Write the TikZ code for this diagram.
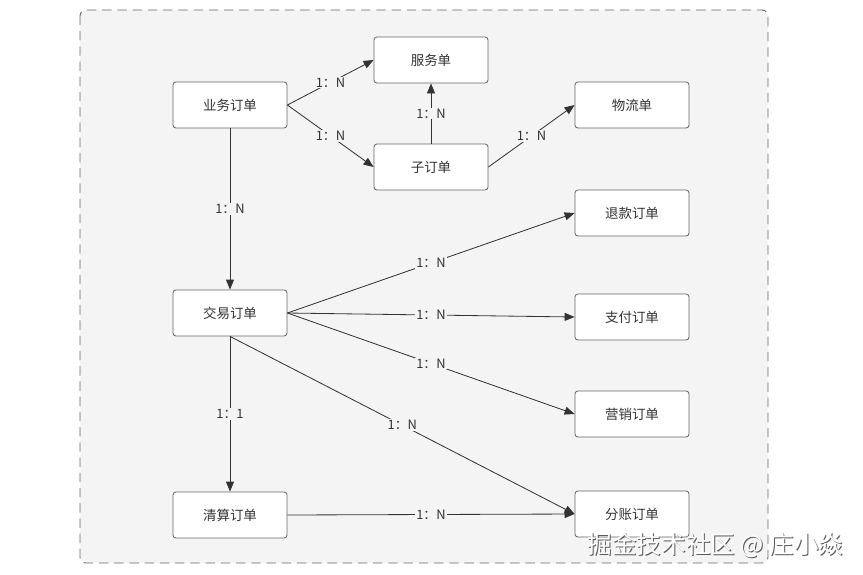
\documentclass[tikz,border=0pt]{standalone}
\usepackage{fontspec}
\setmainfont{Noto Sans CJK SC}
\usepackage{tikz}
\usetikzlibrary{arrows.meta}
\usetikzlibrary{backgrounds}

\definecolor{panel}{HTML}{F4F4F4}
\definecolor{ink}{HTML}{333333}
\definecolor{frame}{HTML}{666666}

\tikzset{
	box/.style={draw=frame, fill=white, line width=0.7pt, rounded corners=2.5pt,
		minimum width=3.42cm, minimum height=1.38cm, font=\fontsize{11.5}{13}\selectfont, text=ink},
	rel/.style={fill=panel, inner sep=1pt, font=\fontsize{11}{13}\selectfont, text=ink},
	link/.style={ink, line width=0.7pt, -{Triangle[length=3mm,width=2.4mm]}}
}

\begin{document}
\begin{tikzpicture}[x=0.03cm, y=-0.03cm]
\useasboundingbox (0,0) rectangle (863,574);
\draw[frame, fill=panel, line width=0.8pt, rounded corners=5pt, dash pattern=on 8pt off 5pt] (80,10) rectangle (768,563);

\node[box] (yewu)     at (230,105) {业务订单};
\node[box] (fuwu)     at (431,60)  {服务单};
\node[box] (zi)       at (431,167) {子订单};
\node[box] (wuliu)    at (632,105) {物流单};
\node[box] (tuikuan)  at (632,213) {退款订单};
\node[box] (jiaoyi)   at (230,313) {交易订单};
\node[box] (zhifu)    at (632,317) {支付订单};
\node[box] (yingxiao) at (632,414) {营销订单};
\node[box] (qingsuan) at (230,515) {清算订单};
\node[box] (fenzhang) at (632,514) {分账订单};

%\path[->,font=\scriptsize]
\path[link]
(yewu.east) edge node[rel]{1：N} (fuwu.west)
(yewu.east) edge node[rel]{1：N} (zi.west)
(zi.north) edge node[rel]{1：N} (fuwu.south)
(zi.east) edge node[rel]{1：N} (wuliu.west)
(yewu.south) edge node[rel]{1：N} (jiaoyi.north)
(jiaoyi.east) edge node[rel]{1：N} (tuikuan.west)
(jiaoyi.east) edge node[rel]{1：N} (zhifu.west)
(jiaoyi.east) edge node[rel]{1：N} (yingxiao.west)
(jiaoyi.south) edge node[rel]{1：1} (qingsuan.north)
(jiaoyi.south) edge node[rel]{1：N} (fenzhang.west)
(qingsuan.east) edge node[rel]{1：N} (fenzhang.west)
;

% watermark
\node[text=gray!70!black, font=\fontsize{21}{24}\selectfont] (mark) at (716.5,546) {掘金技术社区 @ 庄小焱};
\node[text=white, font=\fontsize{21}{24}\selectfont] at ([shift={(-1,-1)}]mark.center) {掘金技术社区 @ 庄小焱};
\end{tikzpicture}
\end{document}
